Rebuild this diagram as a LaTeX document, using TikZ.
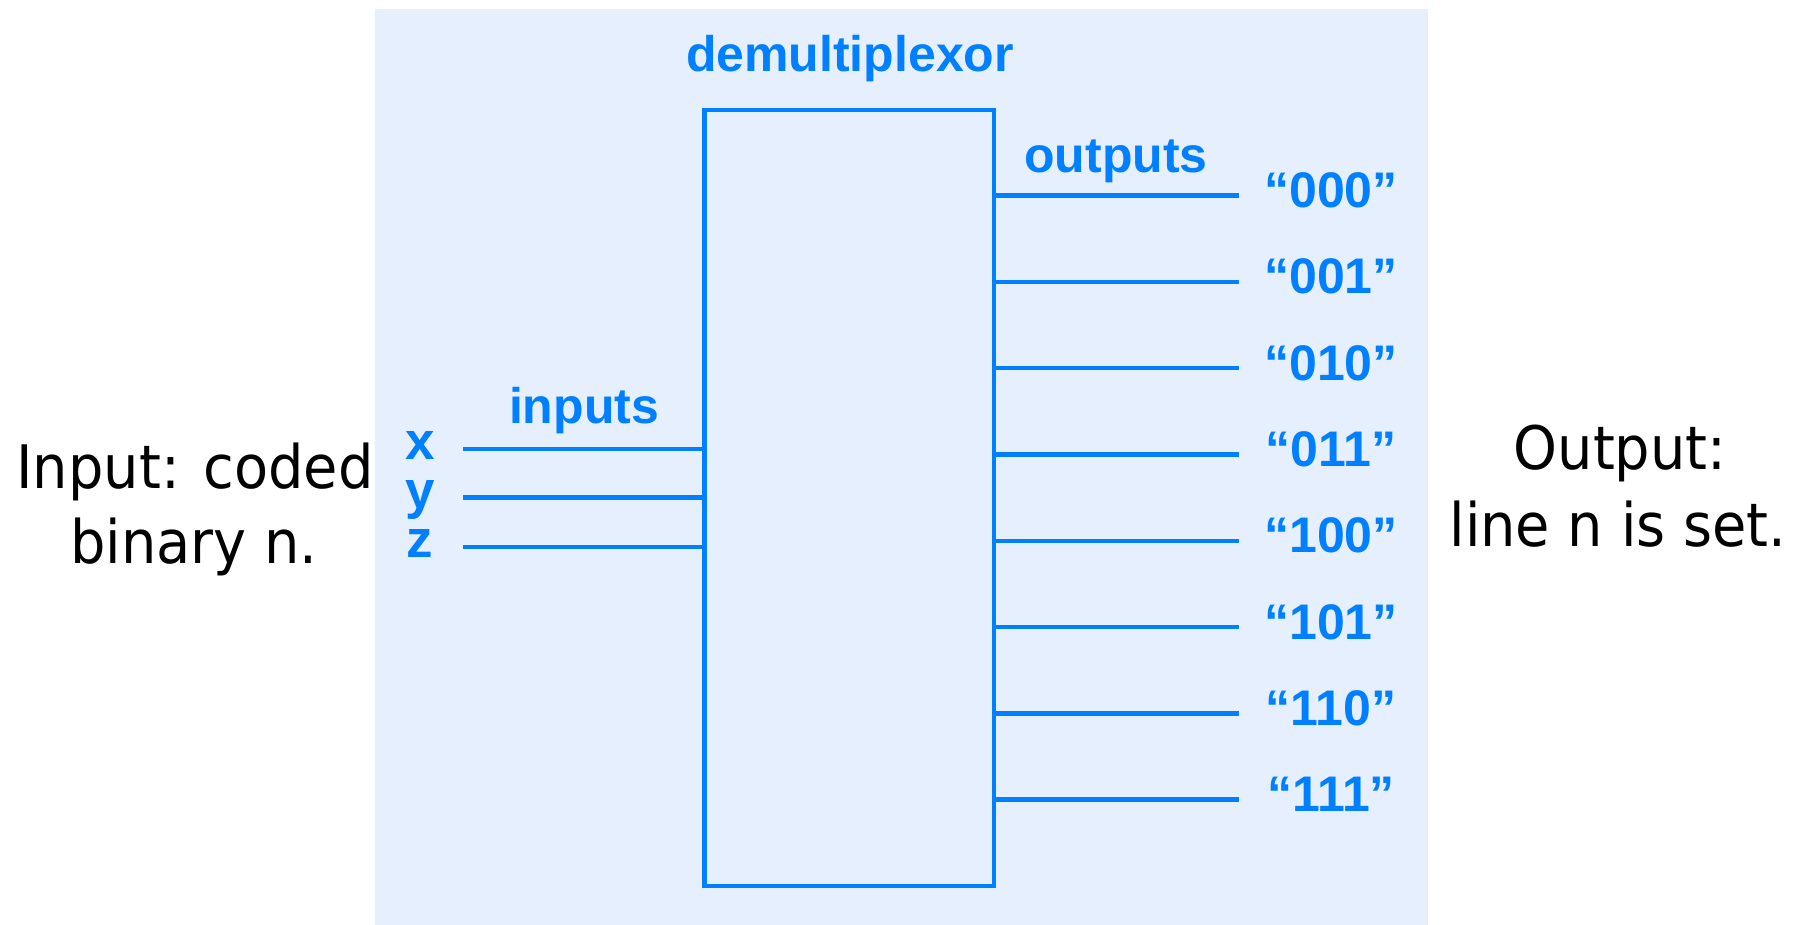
\documentclass[tikz,border=0pt]{standalone}
\usepackage{fontspec}
\setmainfont{Liberation Sans}
\newfontfamily\labelfont[FakeStretch=0.93]{DejaVu Sans}
\definecolor{demblue}{RGB}{0,128,255}
\definecolor{panel}{RGB}{229,239,253}
\tikzset{
  wire/.style={draw=demblue, line width=2.2pt},
  bluetxt/.style={text=demblue, font=\bfseries\fontsize{25pt}{30pt}\selectfont, inner sep=0pt, anchor=base},
  xyztxt/.style={bluetxt, font=\bfseries\fontsize{26.5pt}{30pt}\selectfont, text height=0.53em, text depth=0.2em},
  blacktxt/.style={text=black, font=\labelfont\fontsize{30pt}{36pt}\selectfont, inner sep=0pt, anchor=base}
}
\begin{document}
\begin{tikzpicture}[x=0.5pt, y=-0.5pt]
\useasboundingbox (0,0) rectangle (1802,925);
\fill[panel] (375,9) rectangle (1428,925);
% box
\node (box) [wire, fill=panel, minimum width=144.75pt, minimum height=388pt, inner sep=0pt] at (849.25,498) {};
\node (title) [bluetxt] at (850,72) {demultiplexor};
% inputs
\node (inlbl) [bluetxt] at (584,423) {inputs};
\coordinate (ix) at (463,449);
\coordinate (iy) at (463,497.5);
\coordinate (iz) at (463,547);
\draw[wire] (ix) -- (ix -| box.west);
\draw[wire] (iy) -- (iy -| box.west);
\draw[wire] (iz) -- (iz -| box.west);
\node (lx) [xyztxt] at (420,459) {x};
\node (ly) [xyztxt] at (420,508.5) {y};
\node (lz) [xyztxt] at (420,557) {z};
% outputs
\node (outlbl) [bluetxt] at (1116,173) {outputs};
\foreach \i/\t in {0/000,1/001,2/010,3/011,4/100,5/101,6/110,7/111}{
  \coordinate (o\i) at (1239,{195.5+86.3*\i});
  \draw[wire] (o\i -| box.east) -- (o\i);
  \node (t\i) [bluetxt] at (1331,{207.5+86.3*\i}) {“\t”};
}
% side texts
\node (inA) [blacktxt] at (195,488) {Input: coded};
\node (inB) [blacktxt] at (194,563) {binary n.};
\node (outA) [blacktxt] at (1620,469) {Output:};
\node (outB) [blacktxt] at (1618,546) {line n is set.};
\end{tikzpicture}
\end{document}
